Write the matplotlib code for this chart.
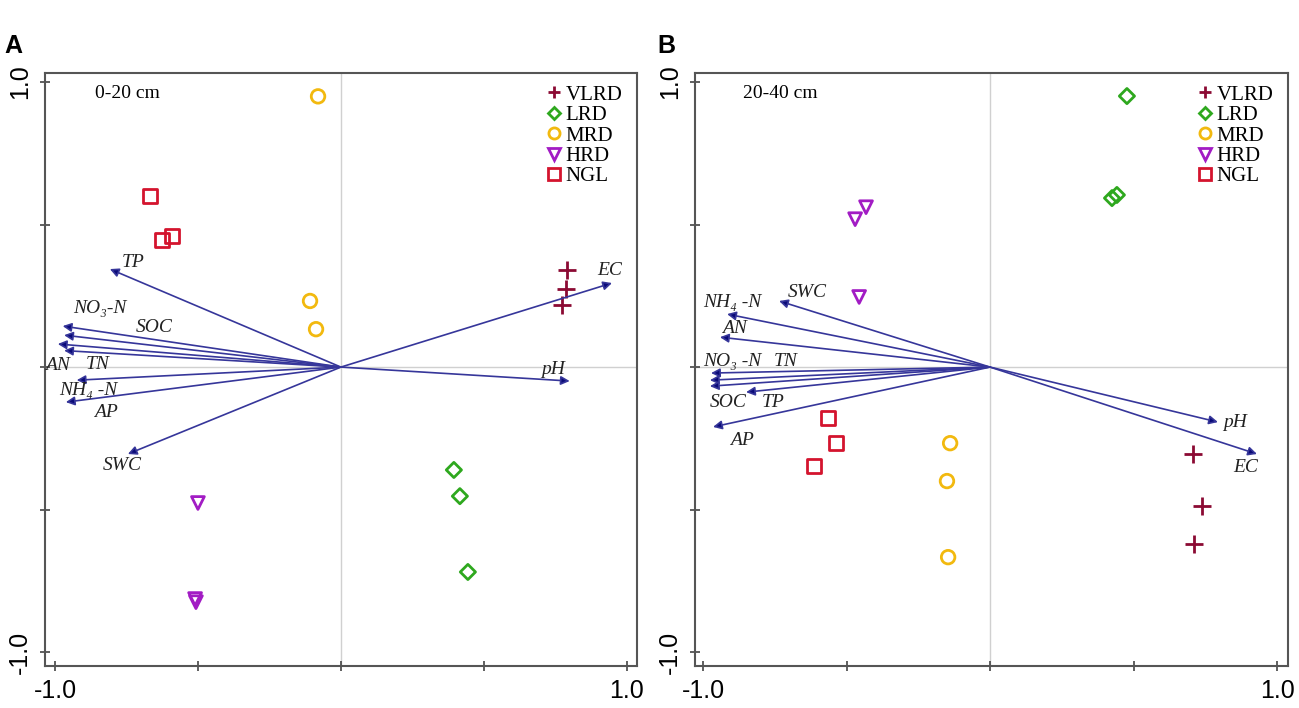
import numpy as np
import matplotlib.pyplot as plt
from matplotlib.lines import Line2D

groups = ['VLRD', 'LRD', 'MRD', 'HRD', 'NGL']
group_colors = ['#8b0a33', '#2ea81e', '#f2b90f', '#a21cc4', '#d4142e']
group_markers = ['+', 'D', 'o', 'v', 's']

env_vars_a = ['TP', 'NO₃-N', 'SOC', 'AN', 'TN', 'NH₄ -N', 'AP', 'SWC', 'EC', 'pH']
env_vars_b = ['SWC', 'NH₄ -N', 'AN', 'NO₃ -N', 'TN', 'SOC', 'TP', 'AP', 'pH', 'EC']

# panel A, 0-20 cm
a_site_x = {'VLRD': [0.79, 0.787, 0.773],
            'LRD': [0.395, 0.416, 0.444],
            'MRD': [-0.08, -0.108, -0.087],
            'HRD': [-0.50, -0.51, -0.507],
            'NGL': [-0.668, -0.626, -0.591]}
a_site_y = {'VLRD': [0.34, 0.274, 0.218],
            'LRD': [-0.361, -0.453, -0.719],
            'MRD': [0.95, 0.232, 0.133],
            'HRD': [-0.477, -0.814, -0.825],
            'NGL': [0.60, 0.446, 0.46]}
a_arrow_x = [-0.808, -0.973, -0.968, -0.99, -0.968, -0.924, -0.962, -0.745, 0.948, 0.80]
a_arrow_y = [0.344, 0.144, 0.112, 0.081, 0.058, -0.046, -0.123, -0.305, 0.295, -0.049]

# panel B, 20-40 cm
b_site_x = {'VLRD': [0.707, 0.739, 0.711],
            'LRD': [0.477, 0.425, 0.442],
            'MRD': [-0.139, -0.15, -0.146],
            'HRD': [-0.47, -0.432, -0.456],
            'NGL': [-0.564, -0.537, -0.613]}
b_site_y = {'VLRD': [-0.305, -0.488, -0.621],
            'LRD': [0.951, 0.593, 0.604],
            'MRD': [-0.267, -0.40, -0.667],
            'HRD': [0.519, 0.561, 0.246],
            'NGL': [-0.179, -0.267, -0.347]}
b_arrow_x = [-0.735, -0.916, -0.941, -0.972, -0.976, -0.976, -0.85, -0.965, 0.794, 0.93]
b_arrow_y = [0.232, 0.186, 0.105, -0.021, -0.046, -0.067, -0.088, -0.21, -0.193, -0.305]

# where the arrow names sit
a_label_xy = [(-0.727, 0.368), (-0.843, 0.207), (-0.654, 0.14), (-0.99, 0.004),
              (-0.85, 0.01), (-0.885, -0.081), (-0.822, -0.158), (-0.766, -0.347),
              (0.94, 0.34), (0.741, -0.01)]
b_label_xy = [(-0.638, 0.263), (-0.899, 0.225), (-0.892, 0.137), (-0.899, 0.018),
              (-0.711, 0.021), (-0.913, -0.123), (-0.756, -0.126), (-0.864, -0.256),
              (0.854, -0.196), (0.889, -0.354)]

serif = ['Liberation Serif', 'DejaVu Serif']
sans = ['Liberation Sans', 'DejaVu Sans']


def draw_panel(ax, site_x, site_y, names, ax_x, ax_y, label_xy, depth, xlim):
    ax.axhline(0, color='#d0d0d0', lw=1.0, zorder=0)
    ax.axvline(0, color='#d0d0d0', lw=1.0, zorder=0)
    for g, c, m in zip(groups, group_colors, group_markers):
        if m == '+':
            ax.scatter(site_x[g], site_y[g], marker=m, s=150, color=c, linewidths=2.0, label=g, zorder=3)
        else:
            sz = {'D': 60, 'v': 85}.get(m, 95)
            ax.scatter(site_x[g], site_y[g], marker=m, s=sz, facecolors='none',
                       edgecolors=c, linewidths=2.0, label=g, zorder=3)
    for x, y in zip(ax_x, ax_y):
        ax.annotate('', xy=(x, y), xytext=(0, 0),
                    arrowprops=dict(arrowstyle='-|>', ec='#36369a', fc='#0a0a78',
                                    lw=1.2, mutation_scale=13, shrinkA=0, shrinkB=0))
    for name, (lx, ly) in zip(names, label_xy):
        ax.text(lx, ly, name, ha='center', va='center', fontsize=14, style='italic',
                family=serif, color='#222222')
    ax.text(-0.86, 0.96, depth, ha='left', va='center', fontsize=14, family=serif)
    ax.set_xlim(*xlim)
    ax.set_ylim(-1.049, 1.032)
    ax.set_xticks([-1, -0.5, 0, 0.5, 1])
    ax.set_xticklabels(['-1.0', '', '', '', '1.0'], fontsize=18, family=sans)
    ax.set_yticks([-1, -0.5, 0, 0.5, 1])
    ax.set_yticklabels(['-1.0', '', '', '', '1.0'], fontsize=18, family=sans,
                       rotation=90, va='center')
    ax.tick_params(direction='inout', length=7, width=1.2, color='#444444', pad=6)
    for sp in ax.spines.values():
        sp.set_color('#555555')
        sp.set_linewidth(1.5)
    handles = []
    for g, c, m in zip(groups, group_colors, group_markers):
        handles.append(Line2D([], [], ls='none', marker=m, color=c, mfc='none', mec=c,
                              mew=2.0, ms=8 if m != 'D' else 6.5, label=g))
    ax.legend(handles=handles, loc='upper right', bbox_to_anchor=(1.0, 1.004),
              frameon=False, prop={'family': serif, 'size': 15}, labelspacing=0.04,
              handletextpad=0.05, handlelength=1.0, borderaxespad=0.3)


fig = plt.figure(figsize=(12.99, 7.08), dpi=100)
ax_a = fig.add_axes([0.0346, 0.0593, 0.4557, 0.8376])
ax_b = fig.add_axes([0.535, 0.0593, 0.4565, 0.8376])

draw_panel(ax_a, a_site_x, a_site_y, env_vars_a, a_arrow_x, a_arrow_y, a_label_xy,
           '0-20 cm', (-1.035, 1.035))
draw_panel(ax_b, b_site_x, b_site_y, env_vars_b, b_arrow_x, b_arrow_y, b_label_xy,
           '20-40 cm', (-1.028, 1.038))

fig.text(0.003, 0.925, 'A', fontsize=18, fontweight='bold', family=sans)
fig.text(0.506, 0.925, 'B', fontsize=18, fontweight='bold', family=sans)

fig.savefig('out.png', dpi=100)
